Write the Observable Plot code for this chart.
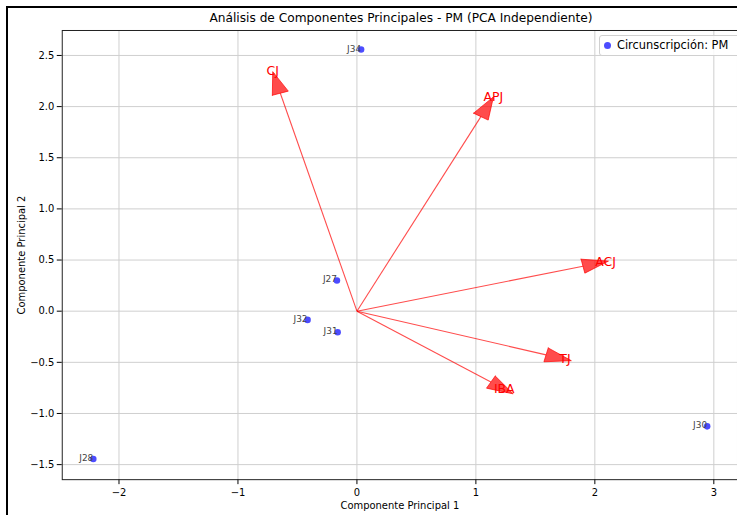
<!DOCTYPE html>
<html><head><meta charset="utf-8">
<script src="https://cdn.jsdelivr.net/npm/d3@7"></script>
<script src="https://cdn.jsdelivr.net/npm/@observablehq/plot@0.6"></script>
<style>
html,body{margin:0;padding:0}
body{width:737px;height:515px;overflow:hidden;background:#fff;font-family:"DejaVu Sans",sans-serif;position:relative}
#outer{position:absolute;left:6px;top:6px;width:760px;height:540px;border-left:2px solid #000;border-top:2px solid #000}
#title{position:absolute;top:11px;left:62px;width:678px;text-align:center;font-size:12.2px;line-height:15px;color:#000;white-space:nowrap}
#chart{position:absolute;top:29px;left:0}
#chart svg{display:block}
#legend{position:absolute;left:599px;top:35px;width:145px;height:19px;border:1px solid #d0d0d0;border-radius:3px;background:rgba(255,255,255,0.85);font-size:11.4px;color:#000}
#legend .dot{position:absolute;left:4px;top:6px;width:7px;height:7px;border-radius:50%;background:blue;opacity:.7}
#legend .txt{position:absolute;left:17px;top:2px;white-space:nowrap}
</style></head>
<body>
<div id="outer"></div>
<div id="title">Análisis de Componentes Principales - PM (PCA Independiente)</div>
<div id="chart"></div>
<div id="legend"><span class="dot"></span><span class="txt">Circunscripción: PM</span></div>
<script>
// Observations (scores)
const obsNames = ["J34", "J27", "J32", "J31", "J28", "J30"];
const obsPC1 = [0.035, -0.168, -0.415, -0.162, -2.216, 2.944];
const obsPC2 = [2.558, 0.300, -0.085, -0.206, -1.445, -1.126];

// Variable loadings (arrow vectors)
const varNames = ["CJ", "APJ", "ACJ", "TJ", "IBA"];
const varPC1 = [-0.644, 1.042, 1.90, 1.59, 1.126];
const varPC2 = [2.131, 1.902, 0.44, -0.427, -0.693];

// Axis ticks
const xTicks = [-2, -1, 0, 1, 2, 3];
const yTicks = [-1.5, -1.0, -0.5, 0.0, 0.5, 1.0, 1.5, 2.0, 2.5];

const legendLabel = "Circunscripción: PM";

const headWidth = 0.14, headLength = 0.22, labelScale = 1.1;

const obs = obsNames.map((n, i) => ({name: n, x: obsPC1[i], y: obsPC2[i]}));
const vars = varNames.map((n, i) => ({name: n, x: varPC1[i], y: varPC2[i]}));

// arrow heads as triangles in data space (like matplotlib FancyArrow)
const heads = [];
vars.forEach(v => {
  const L = Math.hypot(v.x, v.y);
  const ux = v.x / L, uy = v.y / L;
  const nx = -uy, ny = ux;
  heads.push({name: v.name, x: v.x + nx * headWidth / 2, y: v.y + ny * headWidth / 2});
  heads.push({name: v.name, x: v.x + ux * headLength, y: v.y + uy * headLength});
  heads.push({name: v.name, x: v.x - nx * headWidth / 2, y: v.y - ny * headWidth / 2});
  heads.push({name: v.name, x: v.x + nx * headWidth / 2, y: v.y + ny * headWidth / 2});
});

const fmt = d3.format(".1f");

const chart = Plot.plot({
  width: 740,
  height: 488,
  marginLeft: 62,
  marginRight: 0,
  marginTop: 1,
  marginBottom: 36,
  style: {fontFamily: "DejaVu Sans, sans-serif", fontSize: "10px", color: "#000", background: "transparent", overflow: "visible"},
  x: {domain: [-2.477, 3.199]},
  y: {domain: [-1.647, 2.744]},
  marks: [
    Plot.gridX(xTicks, {stroke: "#cfcfcf", strokeOpacity: 1, strokeWidth: 1}),
    Plot.gridY(yTicks, {stroke: "#cfcfcf", strokeOpacity: 1, strokeWidth: 1}),
    Plot.axisX(xTicks, {tickSize: 5, tickPadding: 4, fontSize: 10, stroke: "#000", label: "Componente Principal 1", labelAnchor: "center", labelOffset: 29, labelArrow: "none", tickFormat: d3.format("d")}),
    Plot.axisY(yTicks, {tickSize: 5, tickPadding: 3, fontSize: 10, stroke: "#000", label: "Componente Principal 2", labelAnchor: "center", labelOffset: 45, labelArrow: "none", tickFormat: fmt}),
    Plot.frame({stroke: "#222", strokeWidth: 1}),
    Plot.link(vars, {x1: () => 0, y1: () => 0, x2: "x", y2: "y", stroke: "red", strokeOpacity: 0.7, strokeWidth: 1.1}),
    Plot.line(heads, {x: "x", y: "y", z: "name", fill: "red", fillOpacity: 0.7, stroke: "red", strokeOpacity: 0.7, strokeWidth: 1, curve: "linear"}),
    Plot.text(vars, {x: d => d.x * labelScale, y: d => d.y * labelScale, text: "name", fill: "red", fontSize: 12.5, textAnchor: "middle"}),
    Plot.dot(obs, {x: "x", y: "y", r: 3.3, fill: "blue", fillOpacity: 0.7, stroke: "none"}),
    Plot.text(obs, {x: "x", y: "y", text: "name", fill: "#444", fontSize: 9, textAnchor: "end", lineAnchor: "bottom", dy: 2})
  ]
});
document.getElementById("chart").appendChild(chart);
</script>
</body></html>
